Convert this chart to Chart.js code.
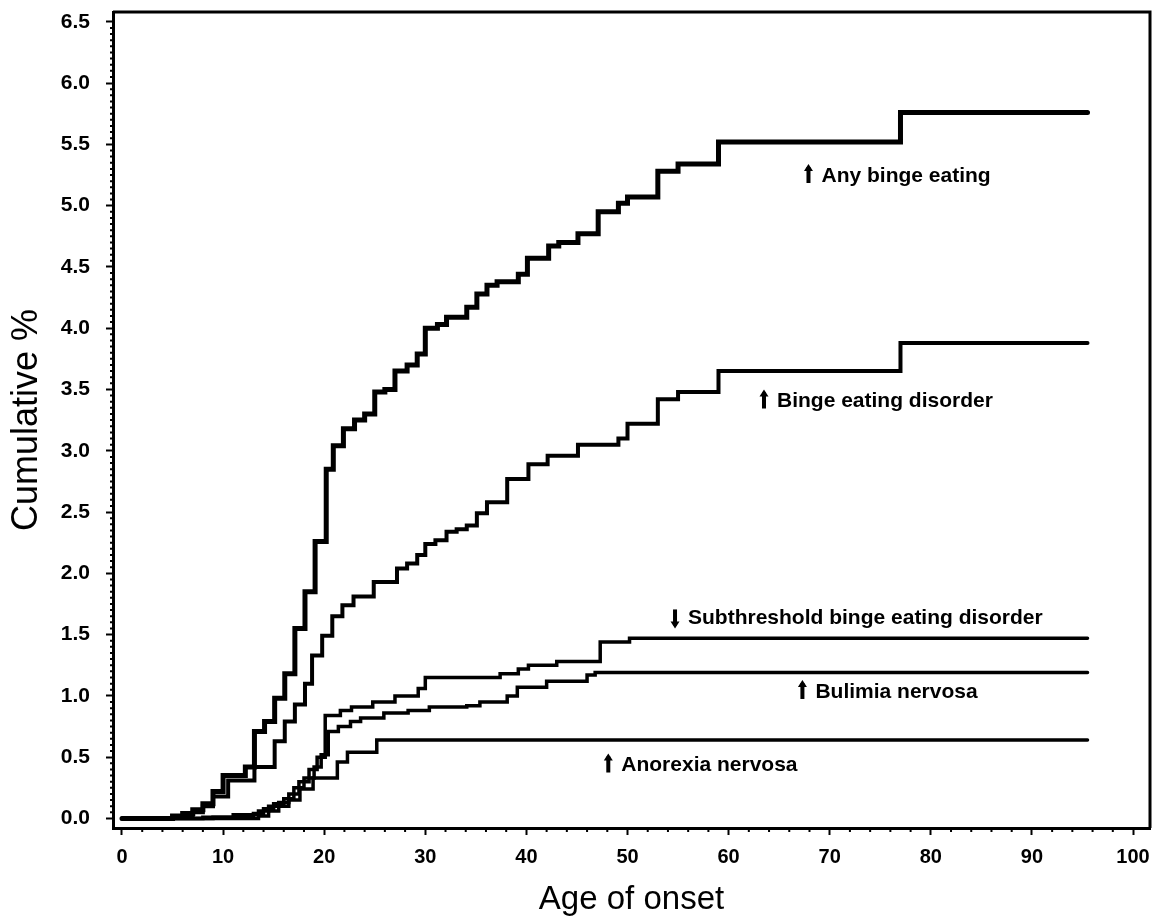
<!DOCTYPE html>
<html>
<head>
<meta charset="utf-8">
<script src="https://cdn.jsdelivr.net/npm/chart.js@4.4.1/dist/chart.umd.min.js"></script>
<style>
    html, body { margin: 0; padding: 0; background: #fff; }
</style>
</head>
<body>
<canvas id="chart" width="1159" height="918"></canvas>
<script>
// ages (x) and cumulative % (y) for each step curve
const anyBingeAges = [0, 5, 6, 7, 8, 9, 10, 12.2, 13.1, 14.1, 15.1, 16.1, 17.1, 18.1, 19.1, 20.2, 20.9, 21.9, 23, 24, 25, 26, 27, 28.2, 29.2, 30, 31.2, 32.1, 34.1, 35.1, 36.1, 37.1, 39.2, 40.1, 42.2, 43.2, 45.1, 47.1, 49.1, 50, 53, 55, 59, 77, 95.5];
const anyBingeValues = [0, 0.02, 0.04, 0.07, 0.12, 0.22, 0.35, 0.42, 0.71, 0.79, 0.98, 1.18, 1.55, 1.85, 2.26, 2.85, 3.04, 3.18, 3.25, 3.30, 3.48, 3.50, 3.65, 3.70, 3.79, 4.00, 4.03, 4.09, 4.17, 4.28, 4.35, 4.38, 4.44, 4.57, 4.67, 4.70, 4.77, 4.95, 5.02, 5.07, 5.28, 5.34, 5.52, 5.76, 5.76];

const bedAges = [0, 5, 7, 8, 9, 10.5, 13.1, 15.1, 16.1, 17.1, 18.1, 18.8, 19.8, 20.8, 21.8, 22.9, 24.9, 27.2, 28.2, 29.2, 30, 31, 32.1, 33.1, 34.1, 35.1, 36.1, 38.1, 40.2, 42.1, 45.1, 49.1, 50, 53, 55, 59, 77, 95.5];
const bedValues = [0, 0.02, 0.05, 0.1, 0.18, 0.31, 0.42, 0.63, 0.79, 0.93, 1.1, 1.33, 1.49, 1.65, 1.74, 1.81, 1.93, 2.04, 2.08, 2.15, 2.24, 2.27, 2.34, 2.36, 2.39, 2.49, 2.58, 2.77, 2.89, 2.96, 3.05, 3.10, 3.22, 3.42, 3.48, 3.65, 3.88, 3.88];

const subAges = [0, 8, 11, 13.5, 14.5, 15.5, 16.5, 17.5, 18.5, 19.3, 20.1, 21.6, 22.7, 24.8, 27, 29.3, 30, 37.4, 39.2, 40.2, 43, 47.3, 50.2, 95.5];
const subValues = [0, 0.01, 0.03, 0.06, 0.1, 0.13, 0.2, 0.3, 0.4, 0.5, 0.84, 0.88, 0.91, 0.95, 1.0, 1.06, 1.15, 1.18, 1.22, 1.25, 1.28, 1.44, 1.47, 1.47];

const bulimiaAges = [0, 9, 13, 14, 15, 16, 17, 18, 19, 19.7, 20.4, 21.4, 22.6, 23.6, 25.9, 28.3, 30.4, 34.1, 35.4, 38.1, 39.1, 42, 46, 46.8, 95.5];
const bulimiaValues = [0, 0.01, 0.04, 0.08, 0.12, 0.16, 0.25, 0.33, 0.42, 0.52, 0.71, 0.75, 0.79, 0.82, 0.86, 0.88, 0.91, 0.92, 0.95, 1.0, 1.07, 1.12, 1.17, 1.19, 1.19];

const anorexiaAges = [0, 13.5, 14.5, 15.5, 16.5, 17.6, 18.9, 21.3, 22.3, 25.2, 95.5];
const anorexiaValues = [0, 0.02, 0.06, 0.1, 0.15, 0.24, 0.33, 0.46, 0.54, 0.64, 0.64];

const xTickValues = [0, 10, 20, 30, 40, 50, 60, 70, 80, 90, 100];
const yTickValues = [0, 0.5, 1, 1.5, 2, 2.5, 3, 3.5, 4, 4.5, 5, 5.5, 6, 6.5];

// text next to each curve, anchored in data units
const curveLabels = [
    { text: "Any binge eating", age: 67.9, value: 5.25, arrow: "up" },
    { text: "Binge eating disorder", age: 63.5, value: 3.41, arrow: "up" },
    { text: "Subthreshold binge eating disorder", age: 54.7, value: 1.64, arrow: "down" },
    { text: "Bulimia nervosa", age: 67.3, value: 1.04, arrow: "up" },
    { text: "Anorexia nervosa", age: 48.1, value: 0.44, arrow: "up" },
];

const FONT = "'Liberation Sans', Arial, sans-serif";

const toPoints = (ages, values) => ages.map((a, i) => ({ x: a, y: values[i] }));

const stepLine = (label, ages, values, width) => ({
    label,
    data: toPoints(ages, values),
    borderColor: "#000",
    borderWidth: width,
    stepped: "before",
    pointRadius: 0,
    fill: false,
    borderCapStyle: "round",
    borderJoinStyle: "miter",
});

const frameAndMarks = {
    id: "frameAndMarks",
    afterDatasetsDraw(chart) {
        const { ctx, chartArea: a, scales: { x, y } } = chart;
        ctx.save();
        ctx.strokeStyle = "#000";

        // box around plot
        ctx.lineWidth = 3;
        ctx.beginPath();
        ctx.moveTo(a.left, a.top);
        ctx.lineTo(a.right, a.top);
        ctx.lineTo(a.right, a.bottom);
        ctx.stroke();

        // minor ticks
        ctx.lineWidth = 2;
        ctx.beginPath();
        for (let i = 1; i <= 130; i++) {
            if (i % 10 === 0) continue;
            const py = y.getPixelForValue(i * 0.05);
            ctx.moveTo(a.left - 3, py);
            ctx.lineTo(a.left, py);
        }
        for (let i = 1; i <= 50; i++) {
            if (i % 5 === 0) continue;
            const px = x.getPixelForValue(i * 2);
            ctx.moveTo(px, a.bottom);
            ctx.lineTo(px, a.bottom + 4);
        }
        ctx.stroke();

        // curve labels with little arrows
        ctx.fillStyle = "#000";
        ctx.font = "bold 21px " + FONT;
        ctx.textBaseline = "middle";
        ctx.textAlign = "left";
        curveLabels.forEach((l) => {
            const px = x.getPixelForValue(l.age);
            const py = y.getPixelForValue(l.value);
            const dir = l.arrow === "up" ? -1 : 1;
            ctx.fillRect(px - 2, py - 8, 4, 16);
            ctx.beginPath();
            ctx.moveTo(px, py + dir * 11);
            ctx.lineTo(px - 4.5, py + dir * 4);
            ctx.lineTo(px + 4.5, py + dir * 4);
            ctx.closePath();
            ctx.fill();
            ctx.fillText(l.text, px + 13, py + 1);
        });
        ctx.restore();
    },
};

new Chart(document.getElementById("chart"), {
    type: "line",
    data: {
        datasets: [
            stepLine("Any binge eating", anyBingeAges, anyBingeValues, 5),
            stepLine("Binge eating disorder", bedAges, bedValues, 4),
            stepLine("Subthreshold binge eating disorder", subAges, subValues, 3.5),
            stepLine("Bulimia nervosa", bulimiaAges, bulimiaValues, 3.5),
            stepLine("Anorexia nervosa", anorexiaAges, anorexiaValues, 3.5),
        ],
    },
    options: {
        responsive: false,
        animation: false,
        devicePixelRatio: 1,
        layout: { padding: { left: 0, top: 12, right: 9, bottom: 0 } },
        plugins: {
            legend: { display: false },
            tooltip: { enabled: false },
        },
        scales: {
            x: {
                type: "linear",
                min: -0.89,
                max: 101.68,
                afterBuildTicks: (s) => { s.ticks = xTickValues.map((v) => ({ value: v })); },
                afterFit: (s) => { s.height = 90; s.paddingLeft = 0; s.paddingRight = 0; },
                ticks: {
                    color: "#000",
                    font: { family: FONT, size: 20, weight: "bold" },
                    padding: 10,
                    maxRotation: 0,
                    autoSkip: false,
                },
                grid: { drawOnChartArea: false, drawTicks: true, tickLength: 7, tickWidth: 2, tickColor: "#000" },
                border: { color: "#000", width: 3 },
                title: {
                    display: true,
                    text: "Age of onset",
                    color: "#000",
                    font: { family: FONT, size: 33, lineHeight: 1 },
                    padding: { top: 0, bottom: 2 },
                },
            },
            y: {
                type: "linear",
                min: -0.078,
                max: 6.58,
                afterBuildTicks: (s) => { s.ticks = yTickValues.map((v) => ({ value: v })); },
                afterFit: (s) => { s.width = 113; s.paddingTop = 0; s.paddingBottom = 0; },
                ticks: {
                    color: "#000",
                    font: { family: FONT, size: 21, weight: "bold" },
                    padding: 16,
                    callback: (v) => Number(v).toFixed(1),
                },
                grid: { drawOnChartArea: false, drawTicks: true, tickLength: 7, tickWidth: 2, tickColor: "#000" },
                border: { color: "#000", width: 3 },
                title: {
                    display: true,
                    text: "Cumulative %",
                    color: "#000",
                    font: { family: FONT, size: 36, lineHeight: 1 },
                    padding: { top: 9, bottom: 0 },
                },
            },
        },
    },
    plugins: [frameAndMarks],
});
</script>
</body>
</html>
